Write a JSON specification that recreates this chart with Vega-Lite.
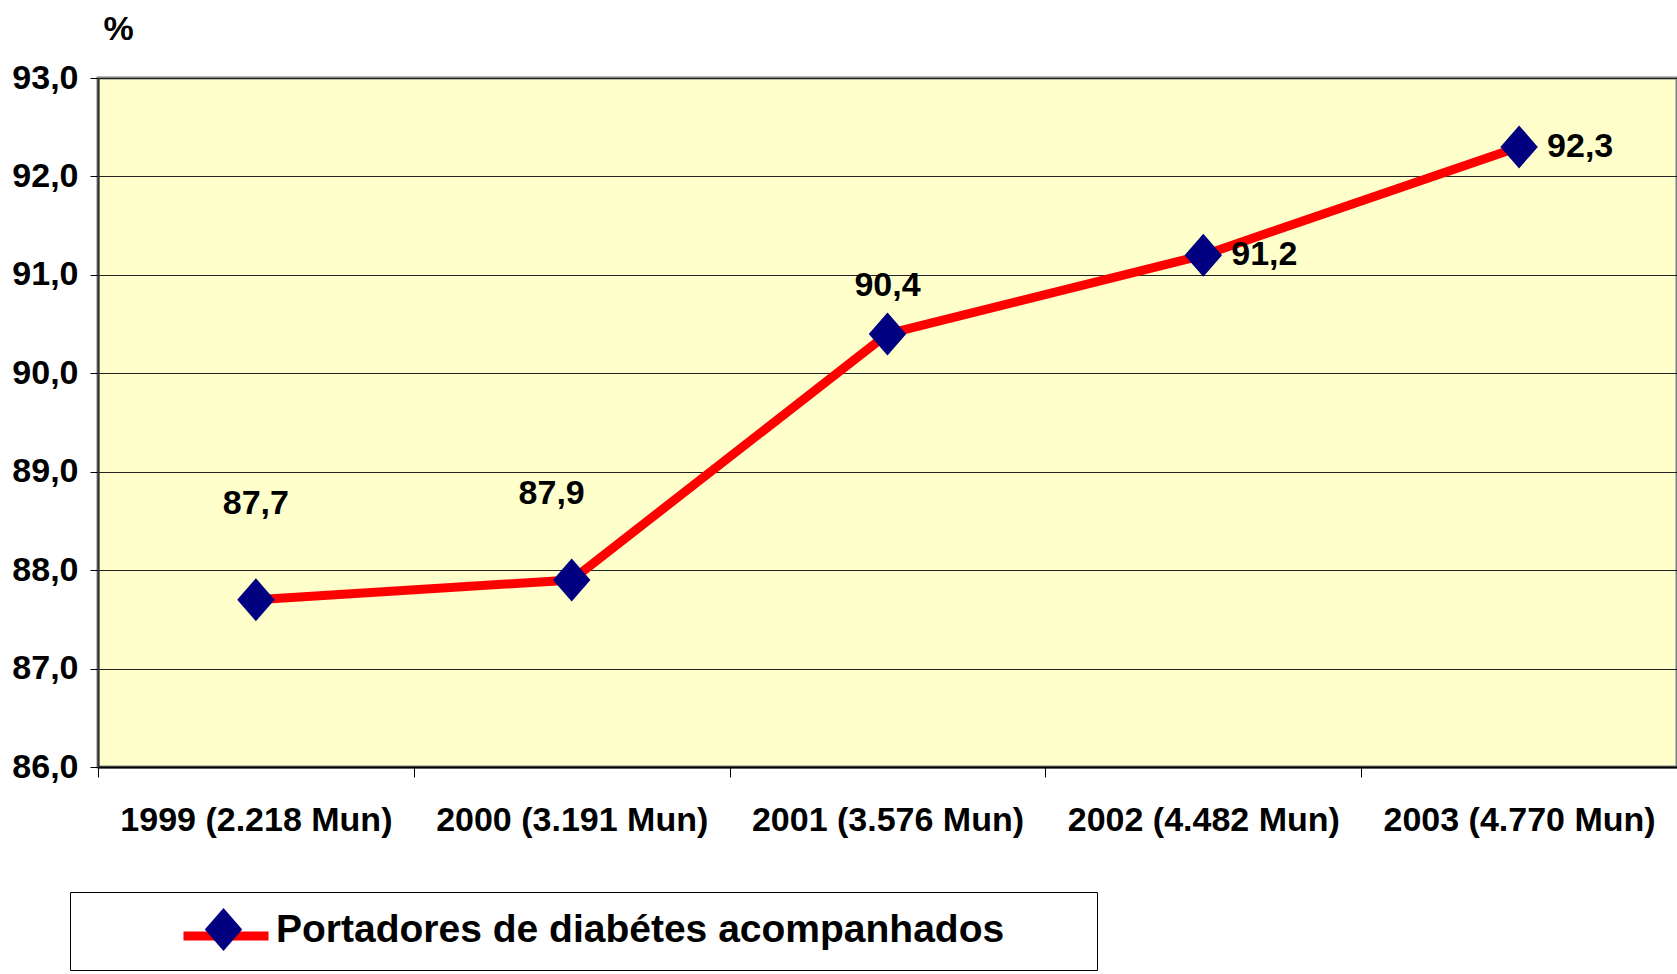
{
  "$schema": "https://vega.github.io/schema/vega-lite/v6.json",
  "width": 1579,
  "height": 689,
  "autosize": {"type": "none"},
  "padding": {"left": 98, "top": 78, "right": 0, "bottom": 207},
  "background": "white",
  "config": {
    "locale": {"number": {"decimal": ",", "thousands": ".", "grouping": [3], "currency": ["R$", ""]}},
    "font": "Liberation Sans",
    "view": {"fill": "#FFFFCC", "stroke": "#808080", "strokeWidth": 3}
  },
  "data": {
    "values": [
      {"ano": "1999 (2.218 Mun)", "valor": 87.7, "serie": "Portadores de diabétes acompanhados"},
      {"ano": "2000 (3.191 Mun)", "valor": 87.9, "serie": "Portadores de diabétes acompanhados"},
      {"ano": "2001 (3.576 Mun)", "valor": 90.4, "serie": "Portadores de diabétes acompanhados"},
      {"ano": "2002 (4.482 Mun)", "valor": 91.2, "serie": "Portadores de diabétes acompanhados"},
      {"ano": "2003 (4.770 Mun)", "valor": 92.3, "serie": "Portadores de diabétes acompanhados"}
    ]
  },
  "encoding": {
    "x": {
      "field": "ano", "type": "nominal", "sort": null,
      "scale": {"type": "band", "paddingInner": 0, "paddingOuter": 0},
      "axis": {
        "title": null, "labelAngle": 0, "tickBand": "extent", "tickSize": 10,
        "tickColor": "#000", "tickWidth": 1, "domainColor": "#000", "domainWidth": 2,
        "labelFont": "Liberation Sans", "labelFontSize": 34, "labelFontWeight": "bold",
        "labelColor": "#000", "labelPadding": 26, "grid": false, "labelLimit": 400
      }
    },
    "y": {
      "field": "valor", "type": "quantitative",
      "scale": {"domain": [86, 93], "nice": false, "zero": false},
      "axis": {
        "values": [86, 87, 88, 89, 90, 91, 92, 93], "format": ".1f",
        "title": "%", "titleAngle": 0, "titleX": 20, "titleY": -49,
        "titleAlign": "center", "titleBaseline": "middle",
        "titleFont": "Liberation Sans", "titleFontSize": 34, "titleFontWeight": "bold", "titleColor": "#000",
        "labelFont": "Liberation Sans", "labelFontSize": 34, "labelFontWeight": "bold", "labelColor": "#000",
        "labelPadding": 12, "tickSize": 8, "tickColor": "#000",
        "domainColor": "#333", "domainWidth": 2,
        "grid": true, "gridColor": "#222", "gridWidth": 1
      }
    }
  },
  "layer": [
    {
      "mark": {"type": "line", "strokeWidth": 9},
      "encoding": {
        "stroke": {
          "field": "serie", "type": "nominal",
          "scale": {"range": ["#FF0000"]},
          "legend": {
            "orient": "none", "legendX": -28, "legendY": 793, "title": null, "zindex": 1,
            "padding": 18, "symbolOffset": 91, "labelOffset": 9,
            "symbolType": "stroke", "symbolSize": 7225, "symbolStrokeWidth": 9,
            "labelFont": "Liberation Sans", "labelFontSize": 39, "labelFontWeight": "bold",
            "labelExpr": "''", "labelLimit": 2000
          }
        }
      }
    },
    {
      "mark": {"type": "point", "filled": true, "opacity": 1, "size": 1400, "shape": "M0,-1.15L1,0L0,1.15L-1,0Z", "strokeWidth": 0},
      "encoding": {
        "fill": {
          "datum": "Portadores de diabétes acompanhados", "type": "nominal",
          "scale": {"range": ["#000080"]},
          "legend": {
            "orient": "none", "legendX": -28, "legendY": 814, "zindex": 2,
            "title": ".", "titleOrient": "right", "titlePadding": 72, "titleFontSize": 10, "titleOpacity": 0,
            "padding": 18, "symbolOffset": 116, "labelOffset": 33,
            "symbolType": "M0,-1.15L1,0L0,1.15L-1,0Z", "symbolSize": 1400, "symbolStrokeWidth": 0,
            "labelFont": "Liberation Sans", "labelFontSize": 39, "labelFontWeight": "bold", "labelColor": "#000",
            "labelLimit": 2000,
            "strokeColor": "#000"
          }
        }
      }
    },
    {
      "transform": [{"filter": "datum.ano == '1999 (2.218 Mun)'"}],
      "mark": {"type": "text", "dy": -96, "font": "Liberation Sans", "fontSize": 34, "fontWeight": "bold", "color": "#000"},
      "encoding": {"text": {"field": "valor", "type": "quantitative", "format": ".1f"}}
    },
    {
      "transform": [{"filter": "datum.ano == '2000 (3.191 Mun)'"}],
      "mark": {"type": "text", "dx": -20, "dy": -86, "font": "Liberation Sans", "fontSize": 34, "fontWeight": "bold", "color": "#000"},
      "encoding": {"text": {"field": "valor", "type": "quantitative", "format": ".1f"}}
    },
    {
      "transform": [{"filter": "datum.ano == '2001 (3.576 Mun)'"}],
      "mark": {"type": "text", "dy": -48, "font": "Liberation Sans", "fontSize": 34, "fontWeight": "bold", "color": "#000"},
      "encoding": {"text": {"field": "valor", "type": "quantitative", "format": ".1f"}}
    },
    {
      "transform": [{"filter": "datum.ano == '2002 (4.482 Mun)' || datum.ano == '2003 (4.770 Mun)'"}],
      "mark": {"type": "text", "align": "left", "dx": 28, "font": "Liberation Sans", "fontSize": 34, "fontWeight": "bold", "color": "#000"},
      "encoding": {"text": {"field": "valor", "type": "quantitative", "format": ".1f"}}
    }
  ]
}
